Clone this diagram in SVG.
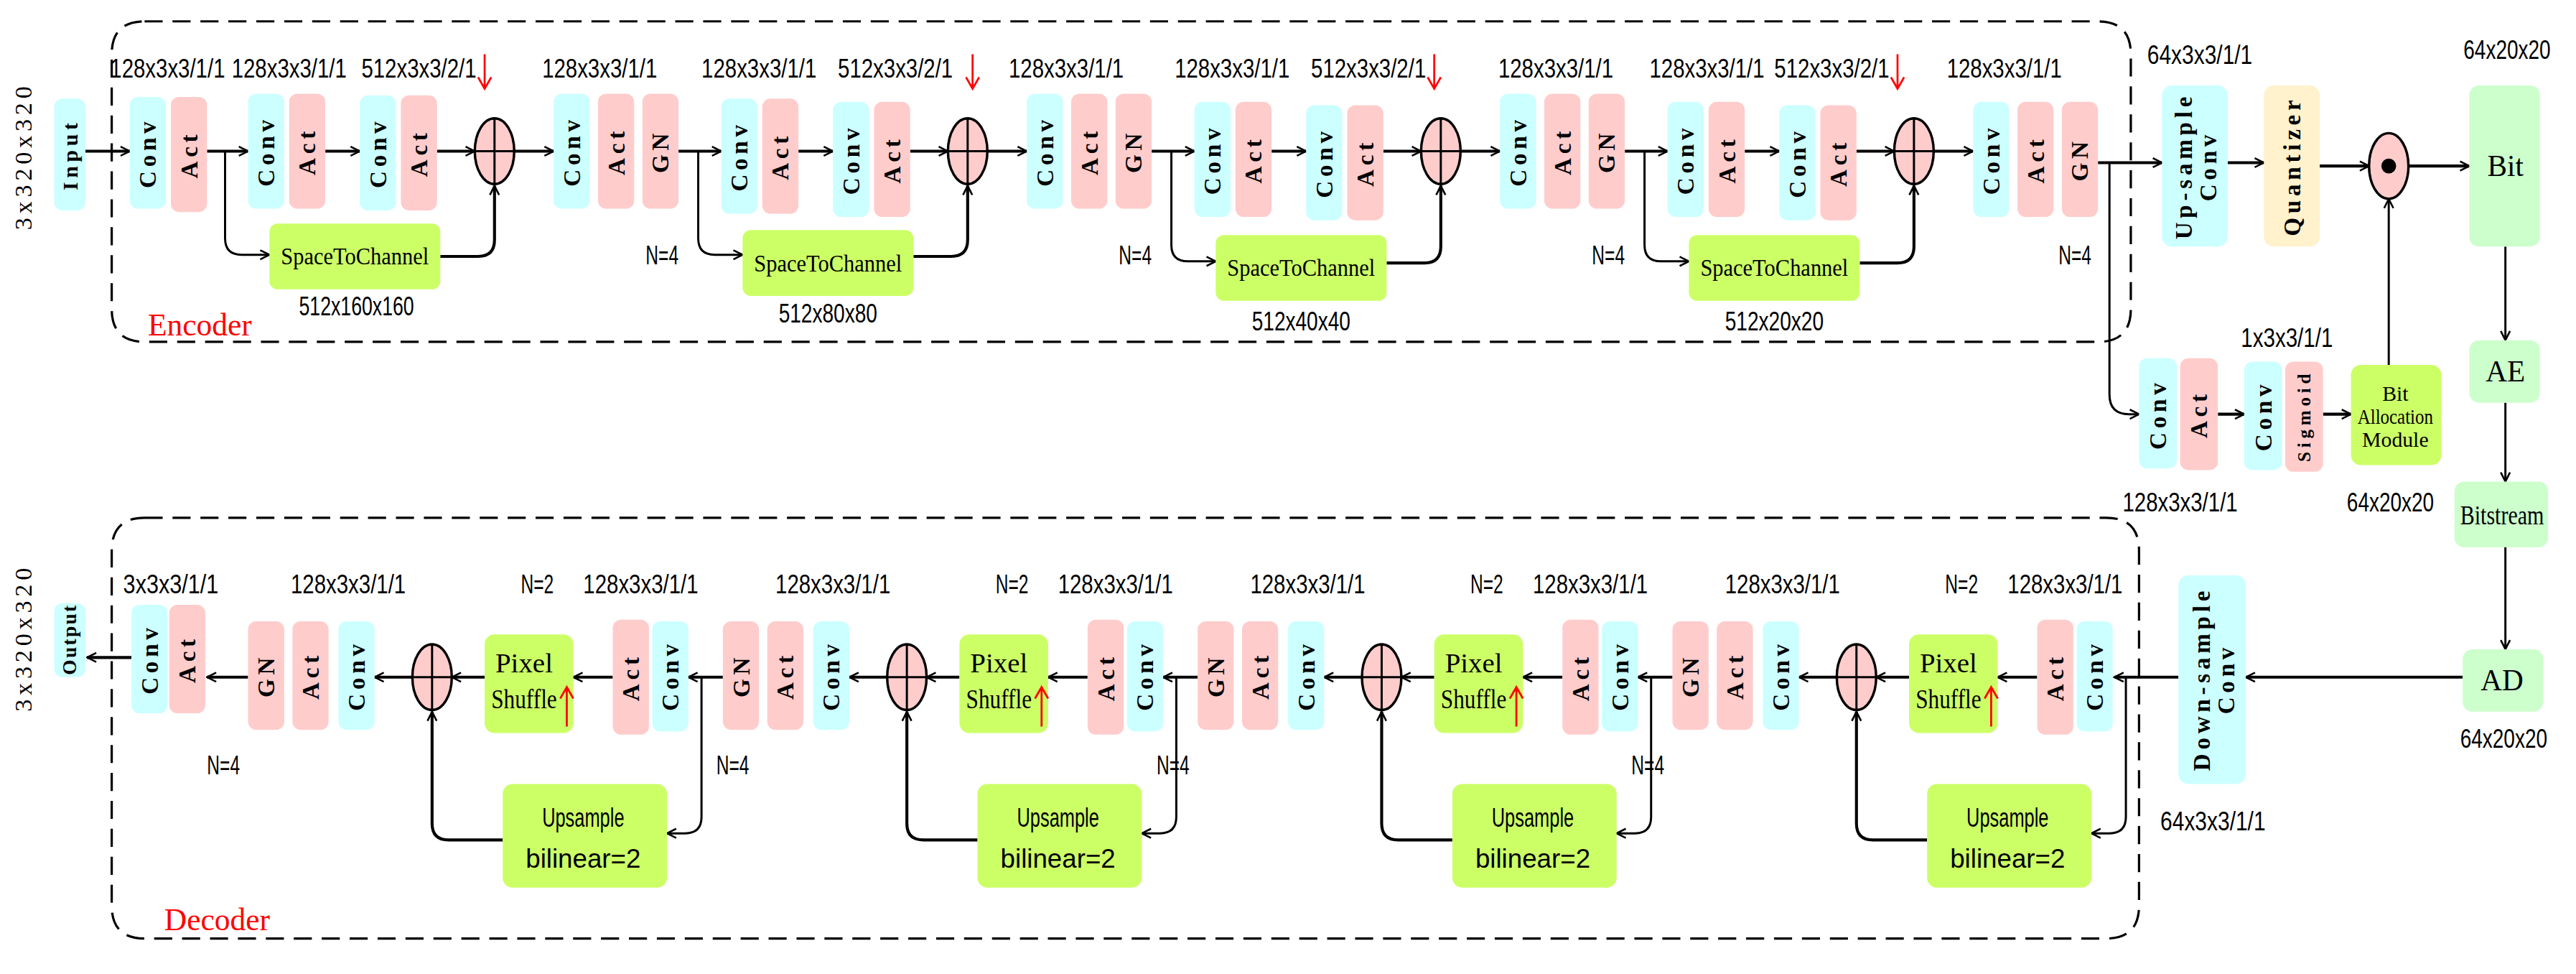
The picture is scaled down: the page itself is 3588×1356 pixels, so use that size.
<svg xmlns="http://www.w3.org/2000/svg" width="3588" height="1356" viewBox="0 0 3588 1356">
<defs>
<marker id="ah" viewBox="0 0 10 10" refX="9" refY="5" markerWidth="7" markerHeight="7" markerUnits="userSpaceOnUse" orient="auto"><path d="M1,1 L9,5 L1,9" fill="none" stroke="#000" stroke-width="1.6"/></marker>
<style>
.c{fill:#ccffff}.p{fill:#ffcccc}.g{fill:#ccff66}.lg{fill:#ccffcc}.q{fill:#fff2cc}
.bl{font-family:"Liberation Serif",serif;font-size:14.5px;font-weight:bold;letter-spacing:2.5px;text-anchor:middle;dominant-baseline:central}
.dm{font-family:"Liberation Sans Narrow","Liberation Sans",sans-serif;font-size:16px;text-anchor:middle}
.tx{font-family:"Liberation Serif",serif;font-size:15px;text-anchor:middle}
.ln{fill:none;stroke:#000;stroke-width:1.3}
.th{fill:none;stroke:#000;stroke-width:1.8}
.dash{fill:none;stroke:#000;stroke-width:1.4;stroke-dasharray:11 6}
.red{font-family:"Liberation Serif",serif;font-size:19px;fill:#ff0000}
.circ{fill:#ffcccc;stroke:#000;stroke-width:1.5}
</style>
</defs>
<rect width="3588" height="1356" fill="#fff"/>
<g transform="scale(2.2883)">
<path class="dash" d="M88,13 H1277 Q1297,13 1297,33 V188 Q1297,208 1277,208 H88 Q68,208 68,188 V33 Q68,13 88,13 Z"/>
<path class="dash" d="M88,315 H1282 Q1302,315 1302,335 V551 Q1302,571 1282,571 H88 Q68,571 68,551 V335 Q68,315 88,315 Z"/>
<text class="red" x="90" y="204">Encoder</text>
<text class="red" x="100" y="566">Decoder</text>
<text class="bl" transform="translate(14,95) rotate(-90)" style="font-weight:normal;font-size:15px">3x320x320</text>
<text class="bl" transform="translate(14,388) rotate(-90)" style="font-weight:normal;font-size:15px">3x320x320</text>

<g id="connectors" marker-end="url(#ah)">
<path class="th" d="M52,92 H79"/>
<path class="th" d="M126,92 H151"/><path class="th" d="M198,92 H219"/><path class="th" d="M266,92 H289"/><path class="th" d="M313,92 H337"/>
<path class="ln" d="M137,92 V145 Q137,155 147,155 H164"/><path class="th" d="M268,156 H291 Q301,156 301,146 V113"/>
<path class="th" d="M413,92 H439"/><path class="th" d="M486,92 H507"/><path class="th" d="M554,92 H577"/><path class="th" d="M601,92 H625"/>
<path class="ln" d="M425,92 V145 Q425,155 435,155 H452"/><path class="th" d="M556,156 H579 Q589,156 589,146 V113"/>
<path class="th" d="M701,92 H727"/><path class="th" d="M774,92 H795"/><path class="th" d="M842,92 H865"/><path class="th" d="M889,92 H913"/>
<path class="ln" d="M713,92 V149 Q713,159 723,159 H740"/><path class="th" d="M844,160 H867 Q877,160 877,150 V113"/>
<path class="th" d="M989,92 H1015"/><path class="th" d="M1062,92 H1083"/><path class="th" d="M1130,92 H1153"/><path class="th" d="M1177,92 H1201"/>
<path class="ln" d="M1001,92 V149 Q1001,159 1011,159 H1028"/><path class="th" d="M1132,160 H1155 Q1165,160 1165,150 V113"/>
<path class="th" d="M1277,99 H1316"/>
<path class="ln" d="M1284,99 V240 Q1284,252 1296,252 H1302"/>
<path class="th" d="M1356,99 H1378"/><path class="th" d="M1412,101 H1442"/><path class="th" d="M1465,101 H1503"/>
<path class="th" d="M1350,252 H1366"/><path class="th" d="M1414,252 H1431"/>
<path class="ln" d="M1454,222 V121"/>
<path class="ln" d="M1525,150 V207"/><path class="ln" d="M1525,245 V293"/><path class="ln" d="M1525,333 V395"/>
<path class="th" d="M1499,412 H1367"/>
<path class="th" d="M1326,412 H1287"/>
<path class="th" d="M1240,412 H1216"/><path class="th" d="M1162,412 H1142"/>
<path class="ln" d="M1294,412 V497 Q1294,507 1284,507 H1273"/><path class="th" d="M1173,511 H1140 Q1130,511 1130,501 V433"/>
<path class="th" d="M1118,412 H1095"/><path class="th" d="M1018,412 H997"/>
<path class="th" d="M951,412 H927"/><path class="th" d="M873,412 H853"/>
<path class="ln" d="M1005,412 V497 Q1005,507 995,507 H984"/><path class="th" d="M884,511 H851 Q841,511 841,501 V433"/>
<path class="th" d="M829,412 H806"/><path class="th" d="M729,412 H708"/>
<path class="th" d="M662,412 H638"/><path class="th" d="M584,412 H564"/>
<path class="ln" d="M716,412 V497 Q716,507 706,507 H695"/><path class="th" d="M595,511 H562 Q552,511 552,501 V433"/>
<path class="th" d="M540,412 H517"/><path class="th" d="M440,412 H419"/>
<path class="th" d="M373,412 H349"/><path class="th" d="M295,412 H275"/>
<path class="ln" d="M427,412 V497 Q427,507 417,507 H406"/><path class="th" d="M306,511 H273 Q263,511 263,501 V433"/>
<path class="th" d="M251,412 H228"/><path class="th" d="M151,412 H126"/><path class="th" d="M80,400 H53"/>
</g>

<g id="input"><rect class="c" x="33" y="60" width="19" height="68" rx="5"/><text class="bl" transform="translate(42.5,94) rotate(-90)" style="font-size:13px">Input</text></g>
<g id="enc0">
<rect class="c" x="79" y="59" width="22" height="68" rx="5"/><text class="bl" transform="translate(90,93) rotate(-90)">Conv</text>
<rect class="p" x="104" y="59" width="22" height="70" rx="5"/><text class="bl" transform="translate(115,94) rotate(-90)">Act</text>
<rect class="c" x="151" y="57" width="22" height="70" rx="5"/><text class="bl" transform="translate(162,92) rotate(-90)">Conv</text>
<rect class="p" x="176" y="57" width="22" height="70" rx="5"/><text class="bl" transform="translate(187,92) rotate(-90)">Act</text>
<rect class="c" x="219" y="58" width="22" height="70" rx="5"/><text class="bl" transform="translate(230,93) rotate(-90)">Conv</text>
<rect class="p" x="244" y="58" width="22" height="70" rx="5"/><text class="bl" transform="translate(255,93) rotate(-90)">Act</text>
<ellipse class="circ" cx="301" cy="92" rx="12" ry="20"/><path class="ln" d="M289,92 H313 M301,72 V112"/>
<rect class="c" x="337" y="57" width="22" height="70" rx="5"/><text class="bl" transform="translate(348,92) rotate(-90)">Conv</text>
<rect class="p" x="364" y="57" width="22" height="70" rx="5"/><text class="bl" transform="translate(375,92) rotate(-90)">Act</text>
<rect class="p" x="391" y="57" width="22" height="70" rx="5"/><text class="bl" transform="translate(402,92) rotate(-90)">GN</text>
<rect class="g" x="164" y="136" width="104" height="40" rx="5"/><text class="tx" x="216" y="161" textLength="90" lengthAdjust="spacingAndGlyphs">SpaceToChannel</text>
</g>
<g id="enc1">
<rect class="c" x="439" y="60" width="22" height="70" rx="5"/><text class="bl" transform="translate(450,95) rotate(-90)">Conv</text>
<rect class="p" x="464" y="60" width="22" height="70" rx="5"/><text class="bl" transform="translate(475,95) rotate(-90)">Act</text>
<rect class="c" x="507" y="62" width="22" height="70" rx="5"/><text class="bl" transform="translate(518,97) rotate(-90)">Conv</text>
<rect class="p" x="532" y="62" width="22" height="70" rx="5"/><text class="bl" transform="translate(543,97) rotate(-90)">Act</text>
<ellipse class="circ" cx="589" cy="92" rx="12" ry="20"/><path class="ln" d="M577,92 H601 M589,72 V112"/>
<rect class="c" x="625" y="57" width="22" height="70" rx="5"/><text class="bl" transform="translate(636,92) rotate(-90)">Conv</text>
<rect class="p" x="652" y="57" width="22" height="70" rx="5"/><text class="bl" transform="translate(663,92) rotate(-90)">Act</text>
<rect class="p" x="679" y="57" width="22" height="70" rx="5"/><text class="bl" transform="translate(690,92) rotate(-90)">GN</text>
<rect class="g" x="452" y="140" width="104" height="40" rx="5"/><text class="tx" x="504" y="165" textLength="90" lengthAdjust="spacingAndGlyphs">SpaceToChannel</text>
</g>
<g id="enc2">
<rect class="c" x="727" y="62" width="22" height="70" rx="5"/><text class="bl" transform="translate(738,97) rotate(-90)">Conv</text>
<rect class="p" x="752" y="62" width="22" height="70" rx="5"/><text class="bl" transform="translate(763,97) rotate(-90)">Act</text>
<rect class="c" x="795" y="64" width="22" height="70" rx="5"/><text class="bl" transform="translate(806,99) rotate(-90)">Conv</text>
<rect class="p" x="820" y="64" width="22" height="70" rx="5"/><text class="bl" transform="translate(831,99) rotate(-90)">Act</text>
<ellipse class="circ" cx="877" cy="92" rx="12" ry="20"/><path class="ln" d="M865,92 H889 M877,72 V112"/>
<rect class="c" x="913" y="57" width="22" height="70" rx="5"/><text class="bl" transform="translate(924,92) rotate(-90)">Conv</text>
<rect class="p" x="940" y="57" width="22" height="70" rx="5"/><text class="bl" transform="translate(951,92) rotate(-90)">Act</text>
<rect class="p" x="967" y="57" width="22" height="70" rx="5"/><text class="bl" transform="translate(978,92) rotate(-90)">GN</text>
<rect class="g" x="740" y="143" width="104" height="40" rx="5"/><text class="tx" x="792" y="168" textLength="90" lengthAdjust="spacingAndGlyphs">SpaceToChannel</text>
</g>
<g id="enc3">
<rect class="c" x="1015" y="62" width="22" height="70" rx="5"/><text class="bl" transform="translate(1026,97) rotate(-90)">Conv</text>
<rect class="p" x="1040" y="62" width="22" height="70" rx="5"/><text class="bl" transform="translate(1051,97) rotate(-90)">Act</text>
<rect class="c" x="1083" y="64" width="22" height="70" rx="5"/><text class="bl" transform="translate(1094,99) rotate(-90)">Conv</text>
<rect class="p" x="1108" y="64" width="22" height="70" rx="5"/><text class="bl" transform="translate(1119,99) rotate(-90)">Act</text>
<ellipse class="circ" cx="1165" cy="92" rx="12" ry="20"/><path class="ln" d="M1153,92 H1177 M1165,72 V112"/>
<rect class="c" x="1201" y="62" width="22" height="70" rx="5"/><text class="bl" transform="translate(1212,97) rotate(-90)">Conv</text>
<rect class="p" x="1228" y="62" width="22" height="70" rx="5"/><text class="bl" transform="translate(1239,97) rotate(-90)">Act</text>
<rect class="p" x="1255" y="62" width="22" height="70" rx="5"/><text class="bl" transform="translate(1266,97) rotate(-90)">GN</text>
<rect class="g" x="1028" y="143" width="104" height="40" rx="5"/><text class="tx" x="1080" y="168" textLength="90" lengthAdjust="spacingAndGlyphs">SpaceToChannel</text>
</g>
<g id="enc-labels">
<text class="dm" x="102" y="47" textLength="70" lengthAdjust="spacingAndGlyphs">128x3x3/1/1</text>
<text class="dm" x="176" y="47" textLength="70" lengthAdjust="spacingAndGlyphs">128x3x3/1/1</text>
<text class="dm" x="255" y="47" textLength="70" lengthAdjust="spacingAndGlyphs">512x3x3/2/1</text>
<text class="dm" x="365" y="47" textLength="70" lengthAdjust="spacingAndGlyphs">128x3x3/1/1</text>
<text class="dm" x="462" y="47" textLength="70" lengthAdjust="spacingAndGlyphs">128x3x3/1/1</text>
<text class="dm" x="545" y="47" textLength="70" lengthAdjust="spacingAndGlyphs">512x3x3/2/1</text>
<text class="dm" x="649" y="47" textLength="70" lengthAdjust="spacingAndGlyphs">128x3x3/1/1</text>
<text class="dm" x="750" y="47" textLength="70" lengthAdjust="spacingAndGlyphs">128x3x3/1/1</text>
<text class="dm" x="833" y="47" textLength="70" lengthAdjust="spacingAndGlyphs">512x3x3/2/1</text>
<text class="dm" x="947" y="47" textLength="70" lengthAdjust="spacingAndGlyphs">128x3x3/1/1</text>
<text class="dm" x="1039" y="47" textLength="70" lengthAdjust="spacingAndGlyphs">128x3x3/1/1</text>
<text class="dm" x="1115" y="47" textLength="70" lengthAdjust="spacingAndGlyphs">512x3x3/2/1</text>
<text class="dm" x="1220" y="47" textLength="70" lengthAdjust="spacingAndGlyphs">128x3x3/1/1</text>
<text class="dm" x="217" y="192" textLength="70" lengthAdjust="spacingAndGlyphs">512x160x160</text>
<text class="dm" x="504" y="196" textLength="60" lengthAdjust="spacingAndGlyphs">512x80x80</text>
<text class="dm" x="792" y="201" textLength="60" lengthAdjust="spacingAndGlyphs">512x40x40</text>
<text class="dm" x="1080" y="201" textLength="60" lengthAdjust="spacingAndGlyphs">512x20x20</text>
<text class="dm" x="403" y="161" textLength="20" lengthAdjust="spacingAndGlyphs">N=4</text>
<text class="dm" x="691" y="161" textLength="20" lengthAdjust="spacingAndGlyphs">N=4</text>
<text class="dm" x="979" y="161" textLength="20" lengthAdjust="spacingAndGlyphs">N=4</text>
<text class="dm" x="1263" y="161" textLength="20" lengthAdjust="spacingAndGlyphs">N=4</text>
<path d="M295,33 V53 M291,47 L295,54 L299,47 M592,33 V53 M588,47 L592,54 L596,47 M873,33 V53 M869,47 L873,54 L877,47 M1155,33 V53 M1151,47 L1155,54 L1159,47" fill="none" stroke="#ff0000" stroke-width="1.2"/>
</g>

<g id="upsample-conv"><rect class="c" x="1316" y="52" width="40" height="98" rx="6"/><text class="bl" transform="translate(1329,101) rotate(-90)">Up-sample</text><text class="bl" transform="translate(1344,101) rotate(-90)">Conv</text></g>
<g id="quantizer"><rect class="q" x="1378" y="52" width="34" height="98" rx="6"/><text class="bl" transform="translate(1395,101) rotate(-90)">Quantizer</text></g>
<g id="odot"><ellipse class="circ" cx="1454" cy="101" rx="12" ry="20"/><circle cx="1454" cy="101" r="4.5"/></g>
<g id="bit"><rect class="lg" x="1503" y="52" width="43" height="98" rx="6"/><text class="tx" x="1525" y="107" style="font-size:18px">Bit</text></g>
<g id="ae"><rect class="lg" x="1503" y="207" width="43" height="38" rx="6"/><text class="tx" x="1525" y="232" style="font-size:18px">AE</text></g>
<g id="bitstream"><rect class="lg" x="1494" y="293" width="57" height="40" rx="6"/><text class="tx" x="1523" y="319" style="font-size:17px" textLength="51" lengthAdjust="spacingAndGlyphs">Bitstream</text></g>
<g id="ad"><rect class="lg" x="1499" y="395" width="49" height="38" rx="6"/><text class="tx" x="1523" y="420" style="font-size:18px">AD</text></g>
<g id="bam-branch">
<rect class="c" x="1302" y="218" width="23" height="67" rx="5"/><text class="bl" transform="translate(1313.5,252) rotate(-90)">Conv</text>
<rect class="p" x="1327" y="218" width="23" height="68" rx="5"/><text class="bl" transform="translate(1338.5,252) rotate(-90)">Act</text>
<rect class="c" x="1366" y="220" width="23" height="66" rx="5"/><text class="bl" transform="translate(1377.5,253) rotate(-90)">Conv</text>
<rect class="p" x="1391" y="220" width="23" height="67" rx="5"/><text class="bl" transform="translate(1402.5,253) rotate(-90)" style="font-size:11px">Sigmoid</text>
</g>
<g id="bam"><rect class="g" x="1431" y="222" width="55" height="61" rx="6"/>
<text class="tx" x="1458" y="244" style="font-size:13px">Bit</text><text class="tx" x="1458" y="258" style="font-size:13px" textLength="46" lengthAdjust="spacingAndGlyphs">Allocation</text><text class="tx" x="1458" y="272" style="font-size:13px">Module</text></g>
<g id="downsample-conv"><rect class="c" x="1326" y="350" width="41" height="127" rx="6"/><text class="bl" transform="translate(1340,413) rotate(-90)">Down-sample</text><text class="bl" transform="translate(1355,413) rotate(-90)">Conv</text></g>
<g id="right-labels">
<text class="dm" x="1339" y="39" textLength="64" lengthAdjust="spacingAndGlyphs">64x3x3/1/1</text>
<text class="dm" x="1526" y="36" textLength="53" lengthAdjust="spacingAndGlyphs">64x20x20</text>
<text class="dm" x="1392" y="211" textLength="56" lengthAdjust="spacingAndGlyphs">1x3x3/1/1</text>
<text class="dm" x="1327" y="311" textLength="70" lengthAdjust="spacingAndGlyphs">128x3x3/1/1</text>
<text class="dm" x="1455" y="311" textLength="53" lengthAdjust="spacingAndGlyphs">64x20x20</text>
<text class="dm" x="1524" y="455" textLength="53" lengthAdjust="spacingAndGlyphs">64x20x20</text>
<text class="dm" x="1347" y="505" textLength="64" lengthAdjust="spacingAndGlyphs">64x3x3/1/1</text>
</g>

<g id="dec0">
<rect class="c" x="1264" y="378" width="22" height="67" rx="5"/><text class="bl" transform="translate(1275,411) rotate(-90)">Conv</text>
<rect class="p" x="1240" y="377" width="22" height="70" rx="5"/><text class="bl" transform="translate(1251,412) rotate(-90)">Act</text>
<rect class="g" x="1162" y="386" width="54" height="60" rx="6"/><text class="tx" x="1186" y="409" style="font-size:17px">Pixel</text><text class="tx" x="1186" y="431" style="font-size:17px" textLength="40" lengthAdjust="spacingAndGlyphs">Shuffle</text>
<ellipse class="circ" cx="1130" cy="412" rx="12" ry="20"/><path class="ln" d="M1118,412 H1142 M1130,392 V432"/>
<rect class="g" x="1173" y="477" width="100" height="63" rx="6"/><text class="dm" x="1222" y="503" textLength="50" lengthAdjust="spacingAndGlyphs">Upsample</text><text class="dm" x="1222" y="528" textLength="70" lengthAdjust="spacingAndGlyphs">bilinear=2</text>
</g>
<g id="dec1">
<rect class="p" x="1018" y="378" width="22" height="66" rx="5"/><text class="bl" transform="translate(1029,411) rotate(-90)">GN</text>
<rect class="p" x="1045" y="378" width="22" height="66" rx="5"/><text class="bl" transform="translate(1056,411) rotate(-90)">Act</text>
<rect class="c" x="1073" y="378" width="22" height="66" rx="5"/><text class="bl" transform="translate(1084,411) rotate(-90)">Conv</text>
<rect class="c" x="975" y="378" width="22" height="67" rx="5"/><text class="bl" transform="translate(986,411) rotate(-90)">Conv</text>
<rect class="p" x="951" y="377" width="22" height="70" rx="5"/><text class="bl" transform="translate(962,412) rotate(-90)">Act</text>
<rect class="g" x="873" y="386" width="54" height="60" rx="6"/><text class="tx" x="897" y="409" style="font-size:17px">Pixel</text><text class="tx" x="897" y="431" style="font-size:17px" textLength="40" lengthAdjust="spacingAndGlyphs">Shuffle</text>
<ellipse class="circ" cx="841" cy="412" rx="12" ry="20"/><path class="ln" d="M829,412 H853 M841,392 V432"/>
<rect class="g" x="884" y="477" width="100" height="63" rx="6"/><text class="dm" x="933" y="503" textLength="50" lengthAdjust="spacingAndGlyphs">Upsample</text><text class="dm" x="933" y="528" textLength="70" lengthAdjust="spacingAndGlyphs">bilinear=2</text>
</g>
<g id="dec2">
<rect class="p" x="729" y="378" width="22" height="66" rx="5"/><text class="bl" transform="translate(740,411) rotate(-90)">GN</text>
<rect class="p" x="756" y="378" width="22" height="66" rx="5"/><text class="bl" transform="translate(767,411) rotate(-90)">Act</text>
<rect class="c" x="784" y="378" width="22" height="66" rx="5"/><text class="bl" transform="translate(795,411) rotate(-90)">Conv</text>
<rect class="c" x="686" y="378" width="22" height="67" rx="5"/><text class="bl" transform="translate(697,411) rotate(-90)">Conv</text>
<rect class="p" x="662" y="377" width="22" height="70" rx="5"/><text class="bl" transform="translate(673,412) rotate(-90)">Act</text>
<rect class="g" x="584" y="386" width="54" height="60" rx="6"/><text class="tx" x="608" y="409" style="font-size:17px">Pixel</text><text class="tx" x="608" y="431" style="font-size:17px" textLength="40" lengthAdjust="spacingAndGlyphs">Shuffle</text>
<ellipse class="circ" cx="552" cy="412" rx="12" ry="20"/><path class="ln" d="M540,412 H564 M552,392 V432"/>
<rect class="g" x="595" y="477" width="100" height="63" rx="6"/><text class="dm" x="644" y="503" textLength="50" lengthAdjust="spacingAndGlyphs">Upsample</text><text class="dm" x="644" y="528" textLength="70" lengthAdjust="spacingAndGlyphs">bilinear=2</text>
</g>
<g id="dec3">
<rect class="p" x="440" y="378" width="22" height="66" rx="5"/><text class="bl" transform="translate(451,411) rotate(-90)">GN</text>
<rect class="p" x="467" y="378" width="22" height="66" rx="5"/><text class="bl" transform="translate(478,411) rotate(-90)">Act</text>
<rect class="c" x="495" y="378" width="22" height="66" rx="5"/><text class="bl" transform="translate(506,411) rotate(-90)">Conv</text>
<rect class="c" x="397" y="378" width="22" height="67" rx="5"/><text class="bl" transform="translate(408,411) rotate(-90)">Conv</text>
<rect class="p" x="373" y="377" width="22" height="70" rx="5"/><text class="bl" transform="translate(384,412) rotate(-90)">Act</text>
<rect class="g" x="295" y="386" width="54" height="60" rx="6"/><text class="tx" x="319" y="409" style="font-size:17px">Pixel</text><text class="tx" x="319" y="431" style="font-size:17px" textLength="40" lengthAdjust="spacingAndGlyphs">Shuffle</text>
<ellipse class="circ" cx="263" cy="412" rx="12" ry="20"/><path class="ln" d="M251,412 H275 M263,392 V432"/>
<rect class="g" x="306" y="477" width="100" height="63" rx="6"/><text class="dm" x="355" y="503" textLength="50" lengthAdjust="spacingAndGlyphs">Upsample</text><text class="dm" x="355" y="528" textLength="70" lengthAdjust="spacingAndGlyphs">bilinear=2</text>
</g>
<g id="dec-out">
<rect class="p" x="151" y="378" width="22" height="66" rx="5"/><text class="bl" transform="translate(162,411) rotate(-90)">GN</text>
<rect class="p" x="178" y="378" width="22" height="66" rx="5"/><text class="bl" transform="translate(189,411) rotate(-90)">Act</text>
<rect class="c" x="206" y="378" width="22" height="66" rx="5"/><text class="bl" transform="translate(217,411) rotate(-90)">Conv</text>
<rect class="c" x="80" y="368" width="22" height="66" rx="5"/><text class="bl" transform="translate(91,401) rotate(-90)">Conv</text>
<rect class="p" x="103" y="368" width="22" height="66" rx="5"/><text class="bl" transform="translate(114,401) rotate(-90)">Act</text>
<rect class="c" x="33" y="367" width="19" height="45" rx="5"/><text class="bl" transform="translate(42.5,389) rotate(-90)" style="font-size:12px;letter-spacing:1px">Output</text>
</g>
<g id="dec-labels">
<path d="M1212,442 V419 M1208,425 L1212,418 L1216,425 M923,442 V419 M919,425 L923,418 L927,425 M634,442 V419 M630,425 L634,418 L638,425 M345,442 V419 M341,425 L345,418 L349,425" fill="none" stroke="#ff0000" stroke-width="1.2"/>
<text class="dm" x="1194" y="361" textLength="20" lengthAdjust="spacingAndGlyphs">N=2</text>
<text class="dm" x="905" y="361" textLength="20" lengthAdjust="spacingAndGlyphs">N=2</text>
<text class="dm" x="616" y="361" textLength="20" lengthAdjust="spacingAndGlyphs">N=2</text>
<text class="dm" x="327" y="361" textLength="20" lengthAdjust="spacingAndGlyphs">N=2</text>
<text class="dm" x="1257" y="361" textLength="70" lengthAdjust="spacingAndGlyphs">128x3x3/1/1</text>
<text class="dm" x="968" y="361" textLength="70" lengthAdjust="spacingAndGlyphs">128x3x3/1/1</text>
<text class="dm" x="679" y="361" textLength="70" lengthAdjust="spacingAndGlyphs">128x3x3/1/1</text>
<text class="dm" x="390" y="361" textLength="70" lengthAdjust="spacingAndGlyphs">128x3x3/1/1</text>
<text class="dm" x="1085" y="361" textLength="70" lengthAdjust="spacingAndGlyphs">128x3x3/1/1</text>
<text class="dm" x="796" y="361" textLength="70" lengthAdjust="spacingAndGlyphs">128x3x3/1/1</text>
<text class="dm" x="507" y="361" textLength="70" lengthAdjust="spacingAndGlyphs">128x3x3/1/1</text>
<text class="dm" x="212" y="361" textLength="70" lengthAdjust="spacingAndGlyphs">128x3x3/1/1</text>
<text class="dm" x="104" y="361" textLength="58" lengthAdjust="spacingAndGlyphs">3x3x3/1/1</text>
<text class="dm" x="1003" y="471" textLength="20" lengthAdjust="spacingAndGlyphs">N=4</text>
<text class="dm" x="714" y="471" textLength="20" lengthAdjust="spacingAndGlyphs">N=4</text>
<text class="dm" x="446" y="471" textLength="20" lengthAdjust="spacingAndGlyphs">N=4</text>
<text class="dm" x="136" y="471" textLength="20" lengthAdjust="spacingAndGlyphs">N=4</text>
</g>
</g>
</svg>
